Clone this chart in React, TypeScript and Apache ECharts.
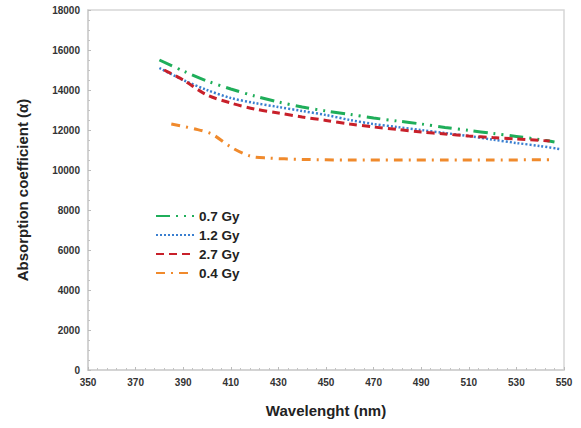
import React, { useEffect, useRef } from "react";
import * as echarts from "echarts";

const wl07 = [380, 390, 400, 410, 420, 430, 440, 450, 460, 470, 480, 490, 500, 510, 520, 530, 540, 546];
const v07 = [15500, 14950, 14450, 14050, 13700, 13400, 13150, 12950, 12780, 12600, 12450, 12300, 12130, 11980, 11830, 11680, 11520, 11400];

const wl12 = [380, 390, 400, 410, 420, 430, 440, 450, 460, 470, 480, 490, 500, 510, 520, 530, 540, 548];
const v12 = [15100, 14500, 14000, 13600, 13350, 13150, 12950, 12750, 12500, 12300, 12150, 12000, 11850, 11700, 11520, 11350, 11200, 11050];

const wl27 = [382, 390, 400, 410, 420, 430, 440, 450, 460, 470, 480, 490, 500, 510, 520, 530, 544];
const v27 = [15000, 14500, 13750, 13350, 13050, 12850, 12650, 12480, 12300, 12150, 12030, 11900, 11800, 11700, 11620, 11550, 11450];

const wl04 = [385, 395, 402, 410, 418, 425, 440, 460, 480, 500, 520, 546];
const v04 = [12300, 12050, 11800, 11150, 10700, 10600, 10530, 10500, 10500, 10500, 10500, 10520];

const seriesNames = ["0.7 Gy", "1.2 Gy", "2.7 Gy", "0.4 Gy"];
const seriesColors = ["#1fae5a", "#3a7fd0", "#c8202a", "#f08a2c"];

const zip = (xs: number[], ys: number[]) => xs.map((x, i) => [x, ys[i]]);

export default function App() {
  const ref = useRef<HTMLDivElement>(null);
  useEffect(() => {
    if (!ref.current) return;
    const chart = echarts.init(ref.current, undefined, { renderer: "svg" });
    const datasets = [zip(wl07, v07), zip(wl12, v12), zip(wl27, v27), zip(wl04, v04)];
    const dashes: any[] = [
      [14, 6, 2, 6, 2, 6],
      [2, 2],
      [8, 5],
      [9, 6, 2, 6],
    ];
    const widths = [3, 2.5, 3, 3];
    chart.setOption({
      animation: false,
      backgroundColor: "#ffffff",
      grid: {
        left: 88,
        right: 17,
        top: 10,
        bottom: 58,
        show: true,
        borderColor: "#d6d6d6",
        borderWidth: 1.5,
      },
      legend: {
        orient: "vertical",
        left: 150,
        top: 204,
        itemWidth: 38,
        itemHeight: 10,
        itemGap: 5,
        itemStyle: { opacity: 0 },
        textStyle: { fontFamily: "Liberation Sans, Arial", fontWeight: "bold", fontSize: 13.5, color: "#222" },
        data: seriesNames,
      },
      xAxis: {
        type: "value",
        min: 350,
        max: 550,
        interval: 20,
        name: "Wavelenght (nm)",
        nameLocation: "middle",
        nameGap: 33,
        nameTextStyle: { fontFamily: "Liberation Sans, Arial", fontWeight: "bold", fontSize: 15, color: "#222" },
        axisLine: { lineStyle: { color: "#cfcfcf", width: 1.5 } },
        axisTick: { show: true, inside: true, length: 3, lineStyle: { color: "#bbbbbb" } },
        minorTick: { show: true, splitNumber: 5, length: 2, lineStyle: { color: "#c4c4c4" } },
        splitLine: { show: false },
        axisLabel: { fontFamily: "Liberation Sans, Arial", fontWeight: "bold", fontSize: 10, color: "#333", margin: 7 },
      },
      yAxis: {
        type: "value",
        min: 0,
        max: 18000,
        interval: 2000,
        name: "Absorption coefficient (\u03b1)",
        nameLocation: "middle",
        nameGap: 58,
        nameTextStyle: { fontFamily: "Liberation Sans, Arial", fontWeight: "bold", fontSize: 15, color: "#222" },
        axisLine: { show: true, lineStyle: { color: "#cfcfcf", width: 1.5 } },
        axisTick: { show: true, inside: true, length: 3, lineStyle: { color: "#bbbbbb" } },
        minorTick: { show: true, splitNumber: 4, length: 2, lineStyle: { color: "#c4c4c4" } },
        splitLine: { show: false },
        axisLabel: {
          fontFamily: "Liberation Sans, Arial",
          fontWeight: "bold",
          fontSize: 10,
          color: "#333",
          margin: 8,
          formatter: (v: number) => String(v),
        },
      },
      series: seriesNames.map((name, i) => ({
        name,
        type: "line",
        data: datasets[i],
        symbol: "none",
        smooth: 0.3,
        color: seriesColors[i],
        lineStyle: { color: seriesColors[i], width: widths[i], type: dashes[i] },
      })),
    });
    return () => chart.dispose();
  }, []);
  return <div ref={ref} style={{ width: 581, height: 428, position: "absolute", left: 0, top: 0 }} />;
}
